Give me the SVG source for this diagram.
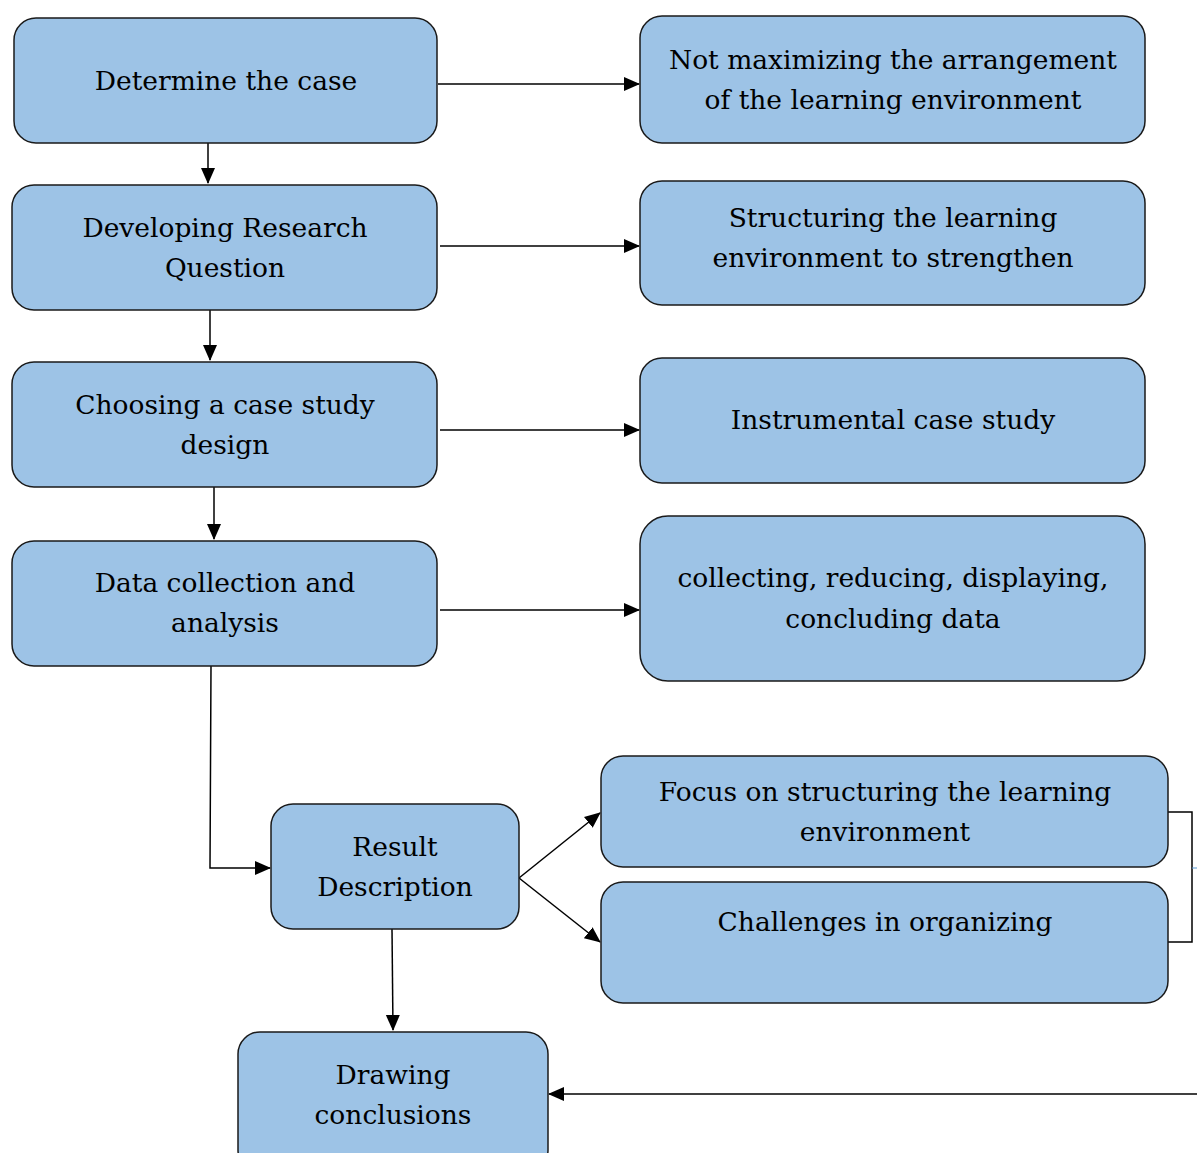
<svg xmlns="http://www.w3.org/2000/svg" width="1197" height="1153" viewBox="0 0 1197 1153">
<style>
.box{fill:#9DC3E6;stroke:#1a1a1a;stroke-width:1.5}
.t{font-family:"DejaVu Serif","Liberation Serif",serif;font-size:26.5px;fill:#000;text-anchor:middle}
.c{fill:none;stroke:#000;stroke-width:1.5}
</style>
<defs>
<marker id="ah2" markerWidth="16" markerHeight="16" refX="15" refY="8" orient="auto" markerUnits="userSpaceOnUse" viewBox="0 0 16 16">
<path d="M0,1 L16,8 L0,15 Z" fill="#000"/>
</marker>
</defs>
<rect width="1197" height="1153" fill="#fff"/>
<g id="connectors">
<path class="c" d="M438,84 H639" marker-end="url(#ah2)"/>
<path class="c" d="M208,143 V183" marker-end="url(#ah2)"/>
<path class="c" d="M440,246 H639" marker-end="url(#ah2)"/>
<path class="c" d="M210,310 V360" marker-end="url(#ah2)"/>
<path class="c" d="M440,430 H639" marker-end="url(#ah2)"/>
<path class="c" d="M214,487 V539" marker-end="url(#ah2)"/>
<path class="c" d="M440,610 H639" marker-end="url(#ah2)"/>
<path class="c" d="M211,666 L210,868 H270" marker-end="url(#ah2)"/>
<path class="c" d="M519,878 L600,813" marker-end="url(#ah2)"/>
<path class="c" d="M519,878 L600,942" marker-end="url(#ah2)"/>
<path class="c" d="M392,929 L393,1030" marker-end="url(#ah2)"/>
<path class="c" d="M1168,812 H1192 V942 H1168"/>
<path d="M1192,868 H1197" stroke="#5B9BD5" stroke-width="1"/>
<path class="c" d="M1197,1094 H549" marker-end="url(#ah2)"/>
</g>
<g id="n1"><rect class="box" x="14" y="18" width="423" height="125" rx="22"/><text class="t" x="226" y="90">Determine the case</text></g>
<g id="n2"><rect class="box" x="12" y="185" width="425" height="125" rx="22"/><text class="t" x="225" y="237">Developing Research</text><text class="t" x="225" y="277">Question</text></g>
<g id="n3"><rect class="box" x="12" y="362" width="425" height="125" rx="22"/><text class="t" x="225" y="414">Choosing a case study</text><text class="t" x="225" y="454">design</text></g>
<g id="n4"><rect class="box" x="12" y="541" width="425" height="125" rx="22"/><text class="t" x="225" y="592">Data collection and</text><text class="t" x="225" y="632">analysis</text></g>
<g id="r1"><rect class="box" x="640" y="16" width="505" height="127" rx="22"/><text class="t" x="893" y="69">Not maximizing the arrangement</text><text class="t" x="893" y="109">of the learning environment</text></g>
<g id="r2"><rect class="box" x="640" y="181" width="505" height="124" rx="22"/><text class="t" x="893" y="227">Structuring the learning</text><text class="t" x="893" y="267">environment to strengthen</text></g>
<g id="r3"><rect class="box" x="640" y="358" width="505" height="125" rx="22"/><text class="t" x="893" y="429">Instrumental case study</text></g>
<g id="r4"><rect class="box" x="640" y="516" width="505" height="165" rx="28"/><text class="t" x="893" y="587">collecting, reducing, displaying,</text><text class="t" x="893" y="628">concluding data</text></g>
<g id="res"><rect class="box" x="271" y="804" width="248" height="125" rx="22"/><text class="t" x="395" y="856">Result</text><text class="t" x="395" y="896">Description</text></g>
<g id="f1"><rect class="box" x="601" y="756" width="567" height="111" rx="22"/><text class="t" x="885" y="801">Focus on structuring the learning</text><text class="t" x="885" y="841">environment</text></g>
<g id="f2"><rect class="box" x="601" y="882" width="567" height="121" rx="22"/><text class="t" x="885" y="931">Challenges in organizing</text></g>
<g id="dc"><rect class="box" x="238" y="1032" width="310" height="140" rx="22"/><text class="t" x="393" y="1084">Drawing</text><text class="t" x="393" y="1124">conclusions</text></g>
</svg>
